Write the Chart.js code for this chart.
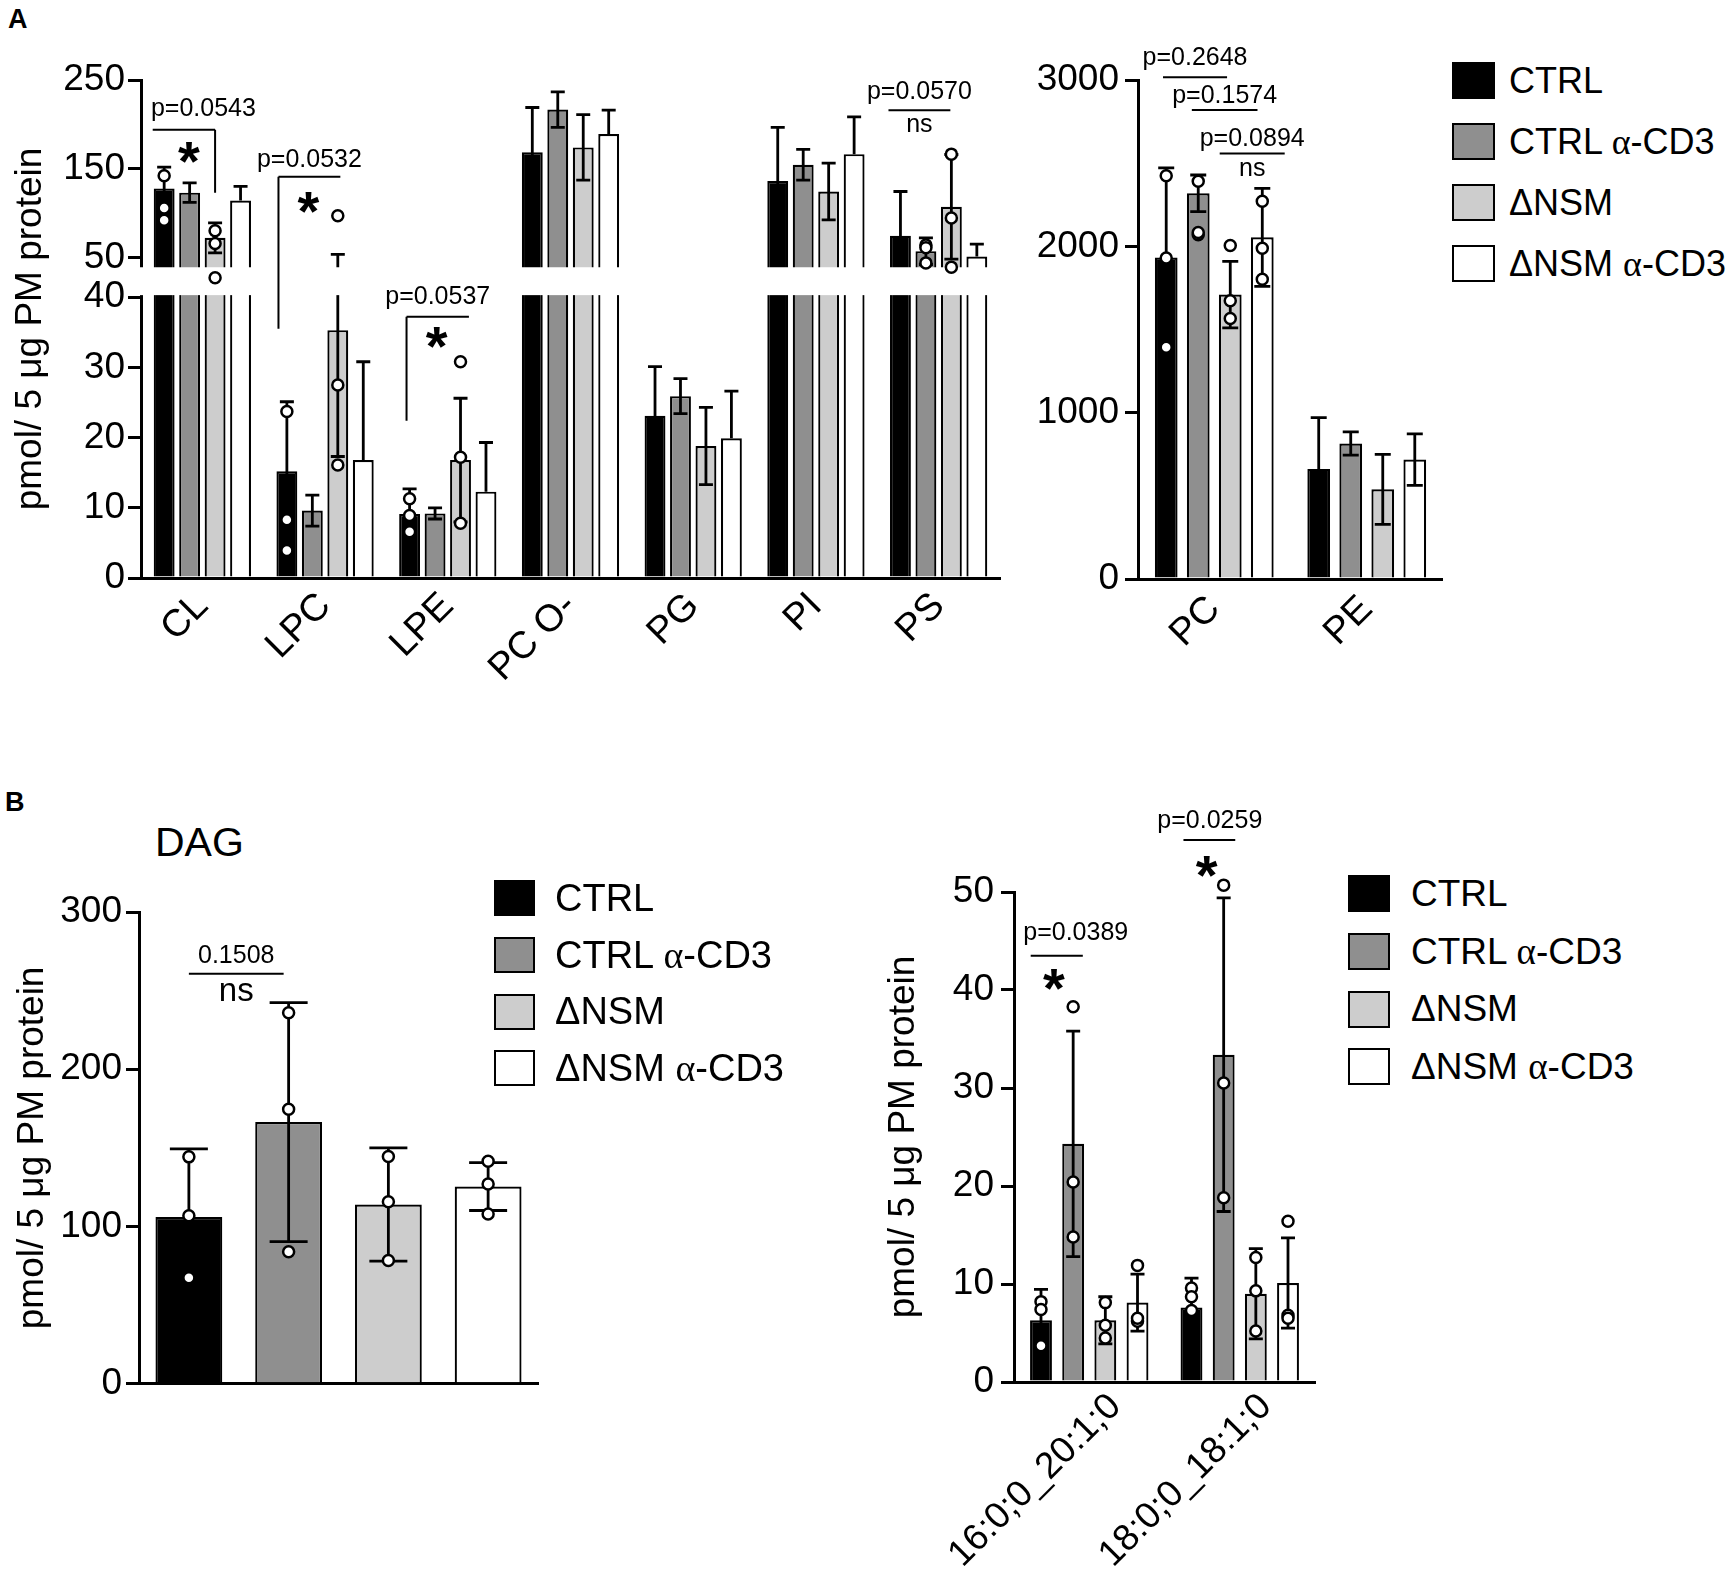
<!DOCTYPE html>
<html lang="en">
<head>
<meta charset="UTF-8">
<title>PM lipid classes and DAG species</title>
<script src="https://cdn.jsdelivr.net/npm/chart.js"></script>
<style>
  body { margin: 0; background: #fff; font-family: "Liberation Sans", Arial, sans-serif; color: #000; }
  #page { position: relative; width: 1733px; height: 1578px; overflow: hidden; }
  #page canvas { position: absolute; }
  .tag { position: absolute; font-weight: bold; font-size: 27px; line-height: 1; }
  .title { position: absolute; font-size: 41px; line-height: 1; }
  .legend { position: absolute; }
  .legend .row { display: flex; align-items: center; white-space: nowrap; }
  .legend .sw { display: inline-block; box-sizing: border-box; border: 2.5px solid #000; }
  .greek { font-family: "Liberation Serif", "DejaVu Serif", serif; }
  #legA { left: 1452px; top: 50px; font-size: 36px; }
  #legA .row { height: 61px; }
  #legA .sw { width: 43px; height: 37px; margin-right: 14px; }
  #legB1 { left: 494px; top: 870px; font-size: 38px; }
  #legB1 .row { height: 56.7px; }
  #legB1 .sw { width: 41px; height: 36px; margin-right: 20px; }
  #legB2 { left: 1348px; top: 865px; font-size: 37px; }
  #legB2 .row { height: 57.7px; }
  #legB2 .sw { width: 42px; height: 37px; margin-right: 21px; }
</style>
</head>
<body>
<div id="page">
  <div class="tag" style="left:8px; top:6px">A</div>
  <div class="tag" style="left:5px; top:789px">B</div>
  <div class="title" style="left:155px; top:822px">DAG</div>
  <canvas id="cA1" width="1010" height="720" style="left:0; top:0"></canvas>
  <canvas id="cA2" width="433" height="720" style="left:1010px; top:0"></canvas>
  <canvas id="cB1" width="560" height="560" style="left:0; top:850px"></canvas>
  <canvas id="cB2" width="450" height="788" style="left:880px; top:790px"></canvas>
  <div class="legend" id="legA"></div>
  <div class="legend" id="legB1"></div>
  <div class="legend" id="legB2"></div>
</div>

<script>
const series = ['CTRL', 'CTRL α-CD3', 'ΔNSM', 'ΔNSM α-CD3'];
const fills = ['#000000', '#8f8f8f', '#cdcdcd', '#ffffff'];
const FONT = '"Liberation Sans", Arial, sans-serif';

// A, left: minor classes (axis broken at 40 / 50)
const aCats = ['CL', 'LPC', 'LPE', 'PC O-', 'PG', 'PI', 'PS'];
const aTicks = [0, 10, 20, 30, 40, 50, 150, 250];
const aCtrl = [127.8, 15.2, 9.1, 168.4, 23.1, 136.0, 74.3];
const aCtrlSd = [24.0, 9.9, 3.6, 50.6, 7.0, 60.5, 50.0];
const aCtrlDots = [[142, 105.6, 92], [23.7, 8.3, 3.9], [11.3, 8.9, 6.6], [], [], [], []];
const aCd3 = [123.0, 9.6, 9.2, 216.6, 25.9, 154.4, 57.0];
const aCd3Sd = [11.0, 2.2, 0.8, 20.0, 2.5, 17.3, 15.0];
const aCd3Dots = [[], [], [], [], [], [], [64, 61, 43.8]];
const aNsm = [72.0, 35.3, 16.8, 174.0, 18.8, 124.3, 107.0];
const aNsmSd = [17.0, 18.0, 8.8, 37.0, 5.5, 32.0, 59.0];
const aNsmDots = [[80, 65.6, 27], [97, 27.5, 16.1], [30.8, 17.2, 7.8], [], [], [], [166.4, 94.3, 39]];
const aNsmCd3 = [114.0, 16.8, 12.3, 189.0, 19.9, 166.4, 51.0];
const aNsmCd3Sd = [16.0, 14.0, 7.0, 27.0, 6.7, 42.0, 14.0];
const aNsmCd3Dots = [[], [], [], [], [], [], []];
const aSig = [
  { cat: 0, x1: -0.45, x2: 2, y: 194, legR: 123, text: 'p=0.0543', ty: 217, tx: 1.54, star: 168, sx: 0.97 },
  { cat: 1, x1: -0.33, x2: 2.1, y: 141, legL: 35.5, text: 'p=0.0532', ty: 160, star: 112, sx: 0.85 },
  { cat: 2, x1: -0.12, x2: 2.33, y: 37.2, legL: 22.4, text: 'p=0.0537', ty: 40, star: 34.3, sx: 1.06 },
  { cat: 6, x1: -0.47, x2: 1.96, y: 216, text: 'p=0.0570', ty: 236, ns: 199 }
];

// A, right: PC and PE
const pCats = ['PC', 'PE'];
const pTicks = [0, 1000, 2000, 3000];
const pCtrl = [1933, 662];
const pCtrlSd = [539, 308];
const pCtrlDots = [[2424, 1930, 1394], []];
const pCd3 = [2319, 815];
const pCd3Sd = [110, 70];
const pCd3Dots = [[2391, 2070, 2083], []];
const pNsm = [1710, 539];
const pNsmSd = [200, 210];
const pNsmDots = [[2005, 1673, 1566], []];
const pNsmCd3 = [2054, 718];
const pNsmCd3Sd = [295, 155];
const pNsmCd3Dots = [[2271, 1989, 1802], []];
const pSig = [
  { cat: 0, x1: -0.1, x2: 1.9, y: 3016, text: 'p=0.2648', ty: 3129 },
  { cat: 0, x1: 0.8, x2: 2.85, y: 2820, text: 'p=0.1574', ty: 2901 },
  { cat: 0, x1: 1.67, x2: 3.7, y: 2558, text: 'p=0.0894', ty: 2646, ns: 2464 }
];

// B, left: total DAG
const dCats = ['DAG'];
const dTicks = [0, 100, 200, 300];
const dMeans = [106.1, 166.4, 114.0, 125.4];
const dSd = [43.3, 76.0, 36.0, 15.2];
const dDots = [[144.3, 106.9, 67.4], [236, 174.6, 84], [144.5, 115.8, 78.4], [141.5, 127, 108]];
const dSig = [{ cat: 0, x1: 0, x2: 0.95, y: 260.8, text: '0.1508', ty: 271.8, ns: 249.4 }];

// B, right: DAG species
const sCats = ['16:0;0_20:1;0', '18:0;0_18:1;0'];
const sTicks = [0, 10, 20, 30, 40, 50];
const sCtrl = [6.3, 7.6];
const sCtrlSd = [3.15, 3.0];
const sCtrlDots = [[8.2, 7.4, 3.7], [9.6, 8.7, 7.3]];
const sCd3 = [24.3, 33.4];
const sCd3Sd = [11.5, 16.0];
const sCd3Dots = [[38.3, 20.4, 14.8], [50.7, 30.5, 18.8]];
const sNsm = [6.3, 9.0];
const sNsmSd = [2.4, 4.6];
const sNsmDots = [[8.1, 5.8, 4.5], [12.7, 9.3, 5.2]];
const sNsmCd3 = [8.1, 10.1];
const sNsmCd3Sd = [2.9, 4.6];
const sNsmCd3Dots = [[11.9, 6.2, 6.5], [16.4, 6.8, 6.5]];
const sSig = [
  { cat: 0, x1: -0.32, x2: 1.3, y: 43.5, text: 'p=0.0389', ty: 45.8, tx: 1.08, star: 41.1, sx: 0.4 },
  { cat: 1, x1: -0.25, x2: 1.36, y: 55.3, text: 'p=0.0259', ty: 57.2, tx: 0.57, star: 52.6, sx: 0.47 }
];

Chart.defaults.font.family = FONT;
Chart.defaults.color = '#000';

// linear scale with a gap: [min, lowMax] at the bottom, [highMin, max] on top
class BrokenScale extends Chart.LinearScale {
  static id = 'broken';
  getPixelForValue(v) {
    const b = this.options.brk;
    if (v <= b.lowMax) {
      return this.bottom - (v - this.min) / (b.lowMax - this.min) * (this.bottom - this.top) * b.lowFrac;
    }
    return this.getHighPixel(v);
  }
  getHighPixel(v) {
    const b = this.options.brk;
    const h = this.bottom - this.top;
    const base = this.bottom - h * (b.lowFrac + b.gapFrac);
    return base - (v - b.highMin) / (this.max - b.highMin) * h * (1 - b.lowFrac - b.gapFrac);
  }
}
Chart.register(BrokenScale);

const errDots = {
  id: 'errDots',
  afterDatasetsDraw(chart, args, o) {
    const { ctx, chartArea: area } = chart;
    const y = chart.scales.y;
    const brk = y.options.brk;
    ctx.save();
    ctx.strokeStyle = '#000';
    ctx.lineWidth = o.lw;
    chart.data.datasets.forEach((ds, di) => {
      chart.getDatasetMeta(di).data.forEach((bar, j) => {
        const m = ds.data[j], s = ds.sd[j];
        if (m == null || !s) return;
        const yt = y.getPixelForValue(m + s);
        const yb = y.getPixelForValue(ds.noLower ? m : m - s);
        ctx.beginPath();
        ctx.moveTo(bar.x, yb); ctx.lineTo(bar.x, yt);
        ctx.moveTo(bar.x - o.cap, yt); ctx.lineTo(bar.x + o.cap, yt);
        if (!ds.noLower) { ctx.moveTo(bar.x - o.cap, yb); ctx.lineTo(bar.x + o.cap, yb); }
        ctx.stroke();
      });
    });
    if (brk) {
      // white band for the axis break
      const yLow = y.getPixelForValue(brk.lowMax);
      const yHigh = y.getHighPixel(brk.highMin);
      ctx.fillStyle = '#fff';
      ctx.fillRect(area.left - 7, yHigh + 1, area.right - area.left + 12, yLow - yHigh - 3);
    }
    ctx.fillStyle = '#fff';
    ctx.lineWidth = o.dotLw;
    chart.data.datasets.forEach((ds, di) => {
      chart.getDatasetMeta(di).data.forEach((bar, j) => {
        (ds.dots[j] || []).forEach(v => {
          const high = brk && ds.data[j] > brk.lowMax;
          const py = high ? y.getHighPixel(v) : y.getPixelForValue(v);
          ctx.beginPath();
          ctx.arc(bar.x, py, o.r, 0, Math.PI * 2);
          ctx.fill();
          ctx.stroke();
        });
      });
    });
    ctx.restore();
  }
};

const sigMarks = {
  id: 'sigMarks',
  afterDatasetsDraw(chart, args, o) {
    const ctx = chart.ctx;
    const y = chart.scales.y;
    ctx.save();
    ctx.strokeStyle = '#000';
    ctx.fillStyle = '#000';
    ctx.lineWidth = o.lw;
    ctx.textAlign = 'center';
    ctx.textBaseline = 'middle';
    o.items.forEach(it => {
      const x0 = chart.getDatasetMeta(0).data[it.cat].x;
      const step = chart.getDatasetMeta(1).data[it.cat].x - x0;
      const px = f => x0 + f * step;
      const yl = y.getPixelForValue(it.y);
      ctx.beginPath();
      ctx.moveTo(px(it.x1), yl); ctx.lineTo(px(it.x2), yl);
      if (it.legL != null) { ctx.moveTo(px(it.x1), yl); ctx.lineTo(px(it.x1), y.getPixelForValue(it.legL)); }
      if (it.legR != null) { ctx.moveTo(px(it.x2), yl); ctx.lineTo(px(it.x2), y.getPixelForValue(it.legR)); }
      ctx.stroke();
      const tx = px(it.tx != null ? it.tx : (it.x1 + it.x2) / 2);
      ctx.font = o.textSize + 'px ' + FONT;
      ctx.fillText(it.text, tx, y.getPixelForValue(it.ty));
      if (it.ns != null) {
        ctx.font = o.nsSize + 'px ' + FONT;
        ctx.fillText('ns', px((it.x1 + it.x2) / 2), y.getPixelForValue(it.ns));
      }
      if (it.star != null) {
        ctx.font = 'bold ' + o.starSize + 'px ' + FONT;
        ctx.fillText('*', px(it.sx), y.getPixelForValue(it.star) + o.starSize * 0.22);
      }
    });
    ctx.restore();
  }
};

const htmlLegend = {
  id: 'htmlLegend',
  afterUpdate(chart, args, o) {
    const box = document.getElementById(o.target);
    box.innerHTML = '';
    chart.data.datasets.forEach(ds => {
      const row = document.createElement('div');
      row.className = 'row';
      const sw = document.createElement('span');
      sw.className = 'sw';
      sw.style.background = ds.backgroundColor;
      const label = document.createElement('span');
      ds.label.split(/(α)/).forEach(part => {
        const s = document.createElement('span');
        if (part === 'α') s.className = 'greek';
        s.textContent = part;
        label.appendChild(s);
      });
      row.append(sw, label);
      box.appendChild(row);
    });
  }
};

function bars(means, sds, dots, extra) {
  return series.map((name, i) => Object.assign({
    label: name,
    data: means[i],
    sd: sds[i],
    dots: dots[i],
    backgroundColor: fills[i],
    borderColor: '#000',
    borderWidth: 2.2
  }, extra && extra[i]));
}

function makeChart(id, c) {
  const yAxis = {
    type: c.yType || 'linear',
    min: c.yMin, max: c.yMax,
    brk: c.brk,
    afterFit: s => { s.width = c.yWidth; },
    afterBuildTicks: s => { s.ticks = c.yTicks.map(v => ({ value: v })); },
    ticks: { color: '#000', font: { size: 37 }, padding: c.yPad, autoSkip: false, callback: v => v },
    grid: { display: true, drawOnChartArea: false, drawTicks: true, tickLength: 13, color: '#000', lineWidth: 3 },
    border: { display: true, color: '#000', width: 3 },
    title: {
      display: !!c.yTitlePad, text: 'pmol/ 5 μg PM protein', color: '#000',
      font: { size: 37 }, padding: { top: c.yTitlePad || 0, bottom: 0 }
    }
  };
  return new Chart(document.getElementById(id), {
    type: 'bar',
    data: { labels: c.labels, datasets: c.sets },
    options: {
      responsive: false, animation: false, devicePixelRatio: 1, events: [],
      layout: { padding: { left: 0, top: c.padTop, right: c.padRight, bottom: 0 } },
      datasets: { bar: { categoryPercentage: c.catPct, barPercentage: c.barPct } },
      scales: {
        x: {
          // fixed height; rotated labels must not push the plot area sideways
          afterFit: s => { s.height = c.xHeight; s.paddingLeft = 0; s.paddingRight = 0; },
          ticks: {
            display: c.xLabels, color: '#000', font: { size: c.xSize || 38 },
            minRotation: 45, maxRotation: 45, padding: c.xPad, labelOffset: c.xShift || 0, autoSkip: false
          },
          grid: { display: false, drawTicks: false },
          border: { display: true, color: '#000', width: 3 }
        },
        y: yAxis
      },
      plugins: {
        legend: { display: false },
        tooltip: { enabled: false },
        errDots: { lw: 2.8, cap: c.cap, r: 5.5, dotLw: 2.5 },
        sigMarks: { items: c.sig, lw: 2, textSize: 25, nsSize: c.nsSize || 25, starSize: 56 },
        htmlLegend: { target: c.legend }
      }
    },
    plugins: [errDots, sigMarks, htmlLegend].filter(p => p.id !== 'htmlLegend' || c.legend)
  });
}

makeChart('cA1', {
  labels: aCats,
  sets: bars([aCtrl, aCd3, aNsm, aNsmCd3], [aCtrlSd, aCd3Sd, aNsmSd, aNsmCd3Sd],
             [aCtrlDots, aCd3Dots, aNsmDots, aNsmCd3Dots], [{}, {}, {}, { noLower: true }]),
  yType: 'broken', yMin: 0, yMax: 250, yTicks: aTicks,
  brk: { lowMax: 40, highMin: 40, lowFrac: 0.564, gapFrac: 0.062 },
  yWidth: 141, yPad: 3, yTitlePad: 9, xHeight: 142, xLabels: true, xPad: 6,
  padTop: 80, padRight: 10, catPct: 0.83, barPct: 0.82, cap: 7, sig: aSig
});

makeChart('cA2', {
  labels: pCats,
  sets: bars([pCtrl, pCd3, pNsm, pNsmCd3], [pCtrlSd, pCd3Sd, pNsmSd, pNsmCd3Sd],
             [pCtrlDots, pCd3Dots, pNsmDots, pNsmCd3Dots]),
  yMin: 0, yMax: 3000, yTicks: pTicks,
  yWidth: 128, yPad: 6, xHeight: 141, xLabels: true, xPad: 8,
  padTop: 80, padRight: 0, catPct: 0.84, barPct: 0.71, cap: 8, sig: pSig, legend: 'legA'
});

makeChart('cB1', {
  labels: dCats,
  sets: bars(dMeans.map(v => [v]), dSd.map(v => [v]), dDots.map(v => [v])),
  yMin: 0, yMax: 300, yTicks: dTicks,
  yWidth: 139, yPad: 4, yTitlePad: 11, xHeight: 22, xLabels: false, xPad: 0,
  padTop: 62, padRight: 22, catPct: 1.0, barPct: 0.67, cap: 19, sig: dSig, nsSize: 33, legend: 'legB1'
});

makeChart('cB2', {
  labels: sCats,
  sets: bars([sCtrl, sCd3, sNsm, sNsmCd3], [sCtrlSd, sCd3Sd, sNsmSd, sNsmCd3Sd],
             [sCtrlDots, sCd3Dots, sNsmDots, sNsmCd3Dots]),
  yMin: 0, yMax: 50, yTicks: sTicks,
  yWidth: 134, yPad: 7, yTitlePad: 2, xHeight: 196, xLabels: true, xSize: 37, xPad: 3, xShift: 26,
  padTop: 102, padRight: 15, catPct: 0.855, barPct: 0.68, cap: 7, sig: sSig, legend: 'legB2'
});
</script>
</body>
</html>
